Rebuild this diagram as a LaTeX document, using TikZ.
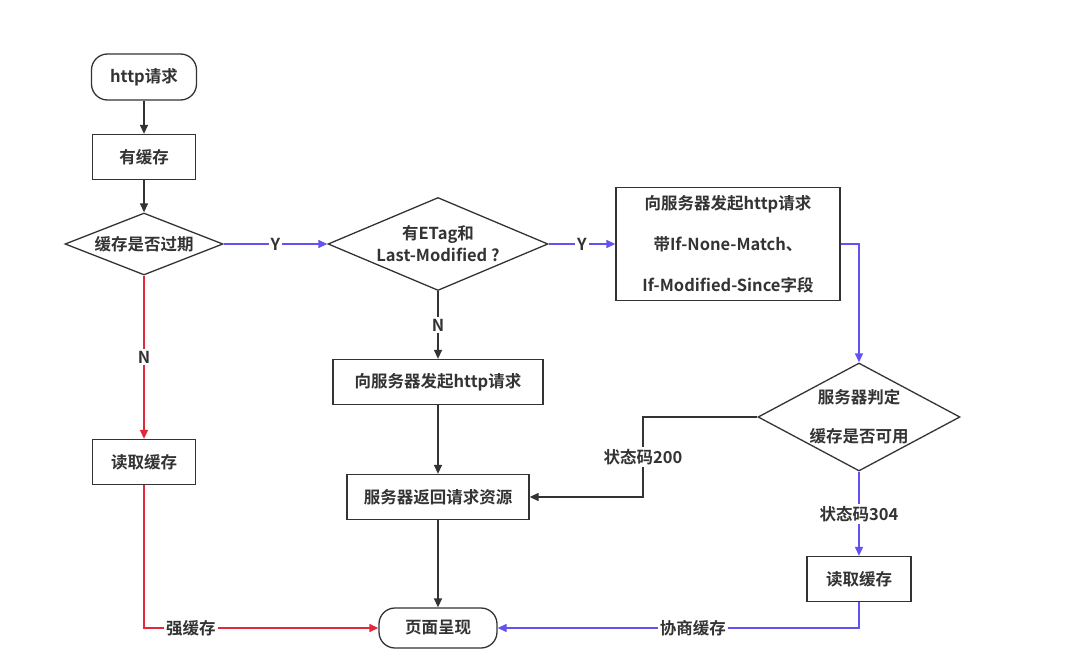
\documentclass[tikz,border=0pt]{standalone}
\usepackage{fontspec}
\setmainfont{Noto Sans CJK SC}[BoldFont={Noto Sans CJK SC Bold}]
\usetikzlibrary{shapes.geometric,arrows.meta}
\definecolor{flowred}{HTML}{E2293B}
\definecolor{flowblue}{HTML}{6352F2}
\definecolor{flowgray}{HTML}{333333}

\begin{document}
\begin{tikzpicture}[x=1pt,y=-1pt,color=flowgray,line width=1.3pt,
    font=\fontsize{16.5}{20}\selectfont\bfseries,
    term/.style={draw,rectangle,rounded corners=16pt,minimum width=118pt,minimum height=40pt},
    proc/.style={draw,rectangle,minimum height=45pt},
    ask/.style={draw,diamond,inner sep=0pt,align=center},
    arr/.style={-{Triangle[length=9pt,width=8pt]}},
    blueflow/.style={arr,flowblue},
    redflow/.style={arr,flowred},
    tag/.style={fill=white,text=flowgray,inner sep=2pt}]
    \useasboundingbox (0,0) rectangle (1087,671);
    \node[term,minimum width=105pt,minimum height=46pt] (start) at (144,77) {http请求};
    \node[proc,minimum width=103pt] (has) at (144,157) {有缓存};
    \node[ask,aspect=2.5,minimum width=158pt,minimum height=62pt] (expire) at (144,244) {缓存是否过期};
    \node[ask,aspect=2.37,minimum width=220pt,minimum height=93pt,font=\fontsize{16.5}{22}\selectfont\bfseries] (etag) at (438,244) {有ETag和\\Last-Modified ?};
    \node[proc,minimum width=224pt,minimum height=113pt,align=center,font=\fontsize{16.5}{41}\selectfont\bfseries] (cond) at (728,244) {向服务器发起http请求\\带If-None-Match、\\If-Modified-Since字段};
    \node[ask,aspect=1.87,minimum width=202pt,minimum height=108pt,font=\fontsize{16.5}{39}\selectfont\bfseries] (judge) at (859,417) {服务器判定\\缓存是否可用};
    \node[proc,minimum width=210pt] (req) at (438,382) {向服务器发起http请求};
    \node[proc,minimum width=182pt] (back) at (438,497) {服务器返回请求资源};
    \node[term] (page) at (438,628) {页面呈现};
    \node[proc,minimum width=103pt] (readA) at (144,462) {读取缓存};
    \node[proc,minimum width=104pt] (readB) at (859,579) {读取缓存};
    \coordinate (turn) at (643,417);

    \draw[arr] (start) -- (has);
    \draw[arr] (has) -- (expire);
    \draw[blueflow] (expire) -- node[tag]{Y} (etag);
    \draw[blueflow] (etag) -- node[tag]{Y} (cond);
    \draw[blueflow] (cond.east) -| (judge.north);
    \draw[blueflow] (judge) -- node[tag]{状态码304} (readB);
    \draw[blueflow] (readB) |- node[tag,pos=0.73]{协商缓存} (page);
    \draw[arr] (judge.west) -- (turn) |- node[tag,pos=0.25]{状态码200} (back);
    \draw[redflow] (expire) -- node[tag]{N} (readA);
    \draw[redflow] (readA) |- node[tag,pos=0.6]{强缓存} (page);
    \draw[arr] (etag) -- node[tag]{N} (req);
    \draw[arr] (req) -- (back);
    \draw[arr] (back) -- (page);
\end{tikzpicture}
\end{document}
